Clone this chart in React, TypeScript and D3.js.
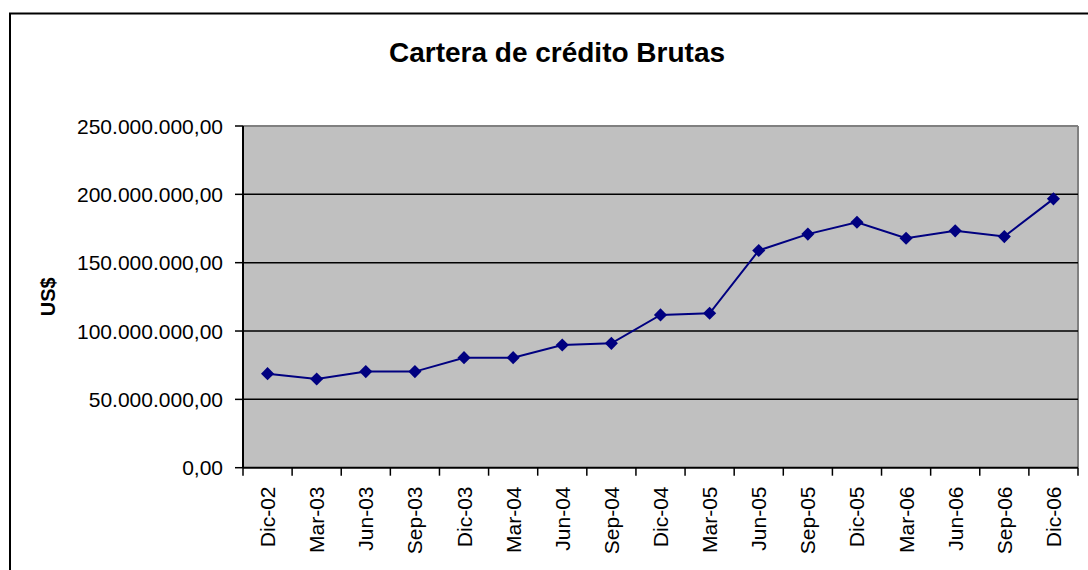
import React from "react";
import * as d3 from "d3";

const categories = ["Dic-02","Mar-03","Jun-03","Sep-03","Dic-03","Mar-04","Jun-04","Sep-04","Dic-04","Mar-05","Jun-05","Sep-05","Dic-05","Mar-06","Jun-06","Sep-06","Dic-06"];
const values = [68.8e6,64.9e6,70.3e6,70.3e6,80.5e6,80.5e6,89.8e6,91.0e6,111.8e6,113.0e6,158.9e6,170.9e6,179.6e6,167.9e6,173.3e6,169.1e6,196.7e6];
const yTicks = [0,50e6,100e6,150e6,200e6,250e6];
const title = "Cartera de crédito Brutas";
const yLabel = "US$";

const W = 1088, H = 570;
const L = 243, R = 1078, T = 126, B = 467.7;
const FONT = "'Liberation Sans', Arial, sans-serif";

function fmt(v: number) {
  const s = d3.format(",.2f")(v);
  return s.replace(/,/g, "#").replace(/\./g, ",").replace(/#/g, ".");
}

export default function App() {
  const x = d3.scaleBand().domain(categories).range([L, R]).padding(0);
  const y = d3.scaleLinear().domain([0, 250e6]).range([B, T]);
  const line = d3.line<number>()
    .x((_, i) => (x(categories[i]) as number) + x.bandwidth() / 2)
    .y((d) => y(d));
  const diamond = d3.symbol().type(d3.symbolDiamond2).size(110)();
  const boundaries = categories.map((c) => x(c) as number).concat([R]);
  return (
    <svg width={W} height={H} style={{ position: "absolute", left: 0, top: 0, background: "#fff" }} fontFamily={FONT}>
      <rect x={10} y={13.5} width={W + 10} height={H + 10} fill="#fff" stroke="#000" strokeWidth={2} />
      <text x={557} y={61.5} textAnchor="middle" fontSize={28} fontWeight="bold">{title}</text>
      <rect x={L} y={T} width={R - L} height={B - T} fill="#C0C0C0" />
      <line x1={L} x2={R} y1={T} y2={T} stroke="#808080" strokeWidth={2} />
      <line x1={R} x2={R} y1={T} y2={B} stroke="#808080" strokeWidth={2} />
      {yTicks.filter((t) => t > 0 && t < 250e6).map((t) => (
        <line key={t} x1={L} x2={R} y1={y(t)} y2={y(t)} stroke="#000" strokeWidth={1.5} />
      ))}
      <line x1={L} x2={L} y1={T} y2={B} stroke="#000" strokeWidth={2} />
      <line x1={L} x2={R} y1={B} y2={B} stroke="#000" strokeWidth={2} />
      {yTicks.map((t) => (
        <g key={"yt" + t}>
          <line x1={L - 8} x2={L} y1={y(t)} y2={y(t)} stroke="#000" strokeWidth={1.5} />
          <text x={223} y={y(t)} dy="0.36em" textAnchor="end" fontSize={21}>{fmt(t)}</text>
        </g>
      ))}
      {boundaries.map((bx, i) => (
        <line key={"xt" + i} x1={bx} x2={bx} y1={B} y2={B + 8} stroke="#000" strokeWidth={1.5} />
      ))}
      {categories.map((c) => {
        const cx = (x(c) as number) + x.bandwidth() / 2;
        return (
          <text key={c} transform={`translate(${cx + 7.5},486.5) rotate(-90)`} textAnchor="end" fontSize={21}>{c}</text>
        );
      })}
      <text transform={`translate(55,${(T + B) / 2}) rotate(-90)`} textAnchor="middle" fontSize={20} fontWeight="bold">{yLabel}</text>
      <path d={line(values) || ""} fill="none" stroke="#000080" strokeWidth={2} />
      {values.map((v, i) => (
        <path key={i} d={diamond || ""} transform={`translate(${(x(categories[i]) as number) + x.bandwidth() / 2},${y(v)})`} fill="#000080" />
      ))}
    </svg>
  );
}
